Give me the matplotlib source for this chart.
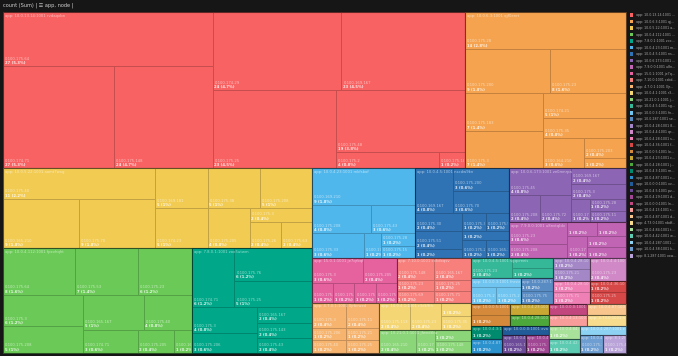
import matplotlib.pyplot as plt
from matplotlib.patches import Rectangle
from matplotlib.transforms import Bbox
import matplotlib.colors as mcolors

# groups (app) in legend order, with the counts of their nodes
apps = [
    'app: 10.0.13.14:1001 rvdaqxbn', 'app: 10.0.6.3:1001 qjf0enrt',
    'app: 10.0.5.22:1001 aomt7wxg', 'app: 10.0.4.112:1001 fpxvhqht',
    'app: 7.8.0.1:1001 zoo5utwm', 'app: 10.0.4.23:1001 mkfsbof',
    'app: 10.0.4.5:1001 nscdw9kn', 'app: 10.0.6.173:1001 ze0mnrpa',
    'app: 7.9.0.0:1001 u8nvtqldv', 'app: 15.0.1:1001 je7qrbqf',
    'app: 7.10.0:1001 cxkdxqsv', 'app: 4.7.0.1:1001 0jrbcwxd',
    'app: 10.0.4.1:1001 r3dk9fh', 'app: 10.21.0.1:1001 jfwedtkw',
    'app: 10.0.4.5:1001 sgqcreeis', 'app: 10.0.0.3:1001 fnrstmas',
    'app: 10.0.287:1001 selhqxw', 'app: 10.0.4.28:1001 85dae2mq',
    'app: 10.0.4.4:1001 qrzpbdm', 'app: 10.0.4.28:1001 sndbe9k',
    'app: 10.0.4.36:1001 f8ynkjhe', 'app: 10.0.0.5:1001 loseweel',
    'app: 10.0.4.23:1001 cfonxaqp', 'app: 10.0.4.28:1001 jmbdeqrk',
    'app: 10.0.4.3:1001 rnwvt7cs', 'app: 10.0.4.87:1001 ctykbxw',
    'app: 10.0.0.0:1001 xvanqrl', 'app: 10.0.4.5:1001 pzvwdxe',
    'app: 10.0.4.29:1001 dnpgkfr', 'app: 10.0.0.0:1001 lnsdfp',
    'app: 10.0.4.13:1001 rjaw8fo', 'app: 10.0.4.87:1001 dvgdyxfq',
    'app: 4.73.0:1001 nbdfwoq', 'app: 10.0.4.84:1001 tqpzrf',
    'app: 10.0.4.42:1001 wqxmrjq', 'app: 10.0.4.287:1001 cqrdxby',
    'app: 10.0.4.38:1001 kfwfvnt', 'app: 8.1.287:1001 oxwrtdk',
]

counts = [
    [27, 27, 24, 24, 23, 23, 19, 4, 1],
    [14, 9, 8, 7, 7, 5, 4, 3, 2, 1],
    [11, 9, 9, 5, 5, 5, 5, 4, 2, 2, 2],
    [8, 7, 6, 6, 5, 5, 4, 3, 2, 1],
    [6, 6, 5, 4, 3, 2, 2, 2],
    [9, 4, 3, 3, 1, 1, 1],
    [4, 3, 3, 2, 2, 1, 1, 1, 1, 1, 1],
    [4, 2, 2, 2, 2, 1, 1, 1],
    [3, 2, 1, 1, 1, 1, 1],
    [3, 2, 1, 1, 1, 1],
    [2, 2, 1, 1, 1, 1],
    [2, 2, 1, 1, 1, 1],
    [2, 2, 1, 1],
    [2, 1, 1, 1],
    [2, 1, 1],
    [1, 1, 1],
    [1, 1], [1, 1], [2], [1, 1], [1, 1], [1, 1],
    [1], [1], [1], [1], [1], [1], [1], [1],
    [1], [1], [1], [1], [1], [1], [1], [1],
]

# node names (prefix 0.100.)
nodes = [
    ['175.64', '174.71', '175.148', '174.29', '169.167', '175.25', '175.48', '175.2', '175.18'],
    ['175.28', '175.200', '175.23', '175.183', '175.3', '174.21', '175.35', '164.210', '175.203', '164.167'],
    ['175.40', '165.210', '175.70', '169.181', '175.38', '175.208', '174.23', '175.205', '175.3', '175.26', '175.63'],
    ['175.64', '175.53', '175.23', '175.3', '175.208', '165.167', '175.40', '174.71', '175.205', '165.18'],
    ['174.71', '175.76', '175.25', '175.3', '175.206', '165.167', '175.143', '175.43'],
    ['169.210', '175.208', '175.43', '175.33', '175.71', '175.28', '175.15'],
    ['169.167', '175.200', '175.70', '175.30', '175.51', '175.143', '175.3', '175.50', '175.208', '175.25', '165.210'],
    ['175.45', '175.208', '175.72', '169.167', '175.3', '175.84', '175.28', '175.11'],
    ['175.23', '175.208', '165.167', '175.43', '175.75', '175.2', '175.21'],
    ['175.3', '175.205', '175.206', '175.63', '175.26', '175.71'],
    ['175.148', '165.167', '175.23', '175.69', '175.25', '175.71'],
    ['175.3', '175.11', '175.206', '175.40', '175.21', '175.25'],
    ['175.113', '175.23', '165.163', '175.35'],
    ['165.210', '174.22', '175.43', '175.148'],
    ['175.23', '175.1', '175.2'],
    ['175.205', '175.23', '175.20'],
    ['175.200', '175.75'], ['175.40', '175.21'], ['175.23'], ['175.23', '175.71'],
    ['160.17', '175.25'], ['175.205', '175.25'],
    ['175.200'], ['175.26'], ['165.167'], ['165.167'], ['175.208'], ['165.167'], ['175.72'], ['175.49'],
    ['175.43'], ['175.63'], ['175.71'], ['175.200'], ['175.26'], ['175.200'], ['175.208'], ['175.43'],
]

colors = [
    '#F96262', '#F5A34E', '#F2CB52', '#6BCA57', '#00A889', '#50B7EC', '#2F73B5', '#8C65B4', '#C064B3', '#E5629F',
    '#F7807C', '#F6B46F', '#F4D675', '#8BD679', '#35B898', '#70C5F0', '#5A8CC4', '#A387C6', '#D088C6', '#EE80B5',
    '#D64747', '#D5893B', '#C9A733', '#4DA83C', '#008A6E', '#2C92CE', '#215B98', '#6C4B99', '#A04693', '#C2477F',
    '#F99D9B', '#F8C68D', '#F6DC8C', '#A8E199', '#5DCBB1', '#8DD1F3', '#6F9FD2', '#B9A3D8',
]

BG = '#161616'
X0, Y0, X1, Y1 = 3.3, 12.3, 626.0, 352.7


def binary(values, x0, y0, x1, y1):
    sums = [0]
    for v in values:
        sums.append(sums[-1] + v)
    rects = [None] * len(values)

    def part(i, j, value, x0, y0, x1, y1):
        if i >= j - 1:
            rects[i] = (x0, y0, x1, y1)
            return
        target = value / 2 + sums[i]
        k, hi = i + 1, j - 1
        while k < hi:
            mid = (k + hi) // 2
            if sums[mid] < target:
                k = mid + 1
            else:
                hi = mid
        if target - sums[k - 1] <= sums[k] - target and i + 1 < k:
            k -= 1
        left = sums[k] - sums[i]
        right = value - left
        if (x1 - x0) > 2 * (y1 - y0):
            xk = (x0 * right + x1 * left) / value
            part(i, k, left, x0, y0, xk, y1)
            part(k, j, right, xk, y0, x1, y1)
        else:
            yk = (y0 * right + y1 * left) / value
            part(i, k, left, x0, y0, x1, yk)
            part(k, j, right, x0, yk, x1, y1)

    part(0, len(values), sums[-1], x0, y0, x1, y1)
    return rects


def darker(c, f):
    r, g, b = mcolors.to_rgb(c)
    return (r * f, g * f, b * f)


fig = plt.figure(figsize=(6.78, 3.56), dpi=100, facecolor=BG)
ax = fig.add_axes([0, 0, 1, 1])
ax.set_xlim(0, 678)
ax.set_ylim(356, 0)
ax.axis('off')
ax.set_facecolor(BG)


def clipbox(x0, y0, x1, y1):
    (ax0, ay0), (ax1, ay1) = ax.transData.transform([(x0, y0), (x1, y1)])
    return Bbox([[min(ax0, ax1), min(ay0, ay1)], [max(ax0, ax1), max(ay0, ay1)]])


def clipped_text(x, y, s, box, **kw):
    t = ax.text(x, y, s, **kw)
    t.set_clip_on(True)
    t.set_clip_box(box)
    return t


total = sum(sum(c) for c in counts)
group_rects = binary([sum(c) for c in counts], X0, Y0, X1, Y1)

for gi, (gx0, gy0, gx1, gy1) in enumerate(group_rects):
    col = colors[gi]
    leaf_rects = binary(counts[gi], gx0, gy0, gx1, gy1)
    for li, (lx0, ly0, lx1, ly1) in enumerate(leaf_rects):
        w, h = lx1 - lx0, ly1 - ly0
        ax.add_patch(Rectangle((lx0, ly0), w, h, facecolor=col,
                               edgecolor=darker(col, 0.78), linewidth=0.5))
        v = counts[gi][li]
        pct = f'{v / total * 100:.1f}'.rstrip('0').rstrip('.')
        cb = clipbox(lx0 + 0.5, ly0 + 0.5, lx1 - 0.5, ly1 - 0.5)
        # leaves on the group's top edge share room with the group label
        top = abs(ly0 - gy0) < 0.5
        need_v = 11 if top else 6
        need_ip = 15 if top else 11
        if w >= 10 and h >= need_v:
            clipped_text(lx0 + 1.8, ly1 - 1.3, f'{v} ({pct}%)', cb, fontsize=2.7,
                         color='white', fontweight='bold', alpha=0.85,
                         va='bottom', ha='left')
        if w >= 10 and h >= need_ip:
            clipped_text(lx0 + 1.8, ly1 - 5.5, '0.100.' + nodes[gi][li], cb,
                         fontsize=2.7, color='white', alpha=0.6,
                         va='bottom', ha='left')
    ax.add_patch(Rectangle((gx0, gy0), gx1 - gx0, gy1 - gy0, facecolor='none',
                           edgecolor=(0, 0, 0, 0.45), linewidth=0.8))
    if gy1 - gy0 >= 8:
        clipped_text(gx0 + 1.8, gy0 + 1.5, apps[gi],
                     clipbox(gx0, gy0, gx1 - 0.8, gy1), fontsize=2.7,
                     color='white', alpha=0.6, va='top', ha='left')

# title
ax.text(3.3, 5.6, 'count (Sum) | \u2630 app, node |', fontsize=3.6,
        color='#d0d0d0', va='center', ha='left')

# legend
for gi, name in enumerate(apps):
    y = 15.2 + gi * 6.5
    ax.add_patch(Rectangle((629.5, y - 1.8), 3.6, 3.6, facecolor=colors[gi],
                           edgecolor='none'))
    label = name if len(name) <= 22 else name[:21] + '\u2026'
    ax.text(636, y, label, fontsize=2.3, color='#a8a8a8', va='center', ha='left')

fig.savefig('out.png', dpi=100, facecolor=BG)
